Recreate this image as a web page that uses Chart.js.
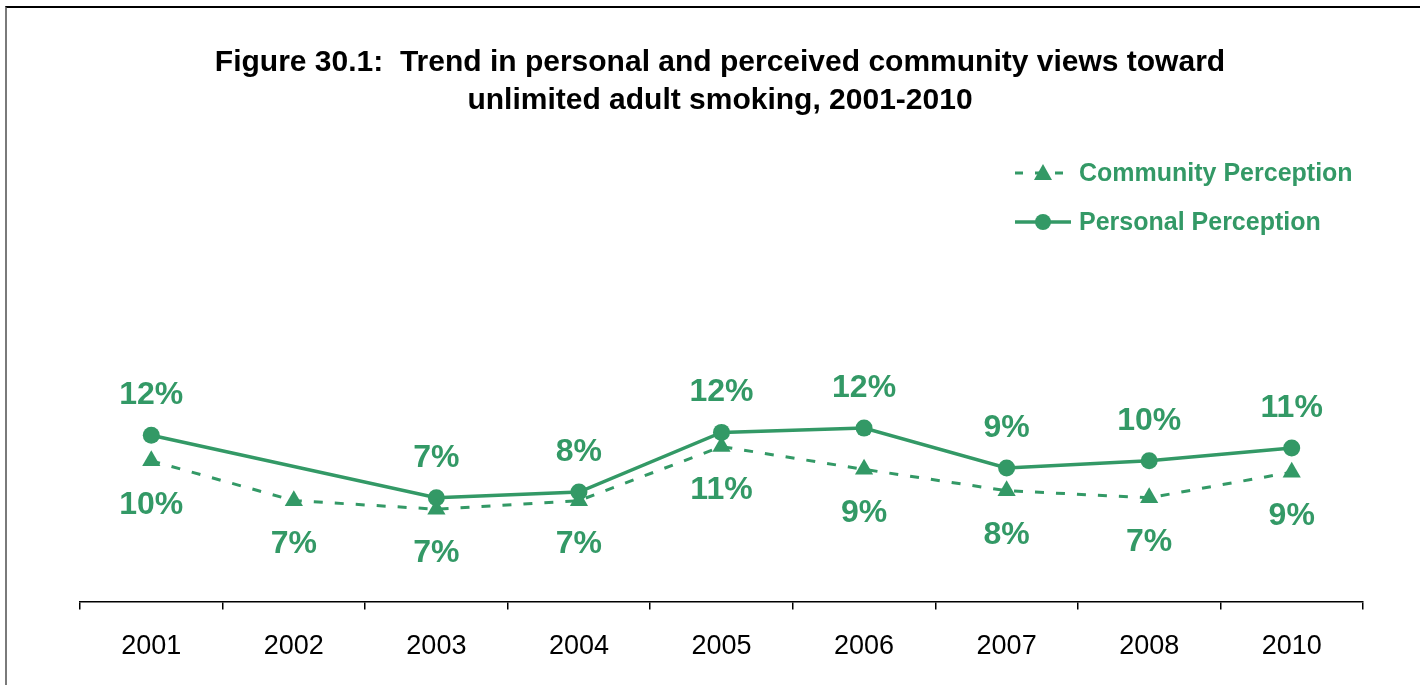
<!DOCTYPE html>
<html>
<head>
<meta charset="utf-8">
<script src="https://cdn.jsdelivr.net/npm/chart.js@4"></script>
<style>
  html, body { margin: 0; padding: 0; background: #fff; }
  #wrap { position: relative; width: 1420px; height: 685px; overflow: hidden; }
  #frame { position: absolute; left: 5px; top: 6px; width: 1500px; height: 800px;
           border-top: 2px solid #000; border-left: 2px solid #7a7a7a; box-sizing: border-box; }
  canvas { position: absolute; left: 0; top: 0; }
</style>
</head>
<body>
<div id="wrap">
  <div id="frame"></div>
  <canvas id="c" width="1420" height="685"></canvas>
</div>
<script>
const titleLines = ["Figure 30.1:  Trend in personal and perceived community views toward", "unlimited adult smoking, 2001-2010"];
const years = ["2001", "2002", "2003", "2004", "2005", "2006", "2007", "2008", "2010"];
const communityPerception = [9.9, 7.1, 6.5, 7.1, 10.9, 9.3, 7.8, 7.3, 9.1];
const personalPerception = [11.7, null, 7.3, 7.7, 11.9, 12.2, 9.4, 9.9, 10.8];
const seriesNames = ["Community Perception", "Personal Perception"];

const GREEN = "#339966";
const FONT = "'Liberation Sans', Arial, sans-serif";

const decorPlugin = {
  id: "decor",
  afterDatasetsDraw(chart) {
    const ctx = chart.ctx;
    ctx.save();
    // data labels
    ctx.fillStyle = GREEN;
    ctx.font = "bold 32px " + FONT;
    ctx.textAlign = "center";
    ctx.textBaseline = "middle";
    chart.data.datasets.forEach((ds, di) => {
      const meta = chart.getDatasetMeta(di);
      meta.data.forEach((pt, i) => {
        const v = ds.data[i];
        if (v === null || v === undefined) return;
        const off = ds.labelPos === "above" ? -40 : 44;
        ctx.fillText(Math.round(v) + "%", pt.x, pt.y + off);
      });
    });
    // title
    ctx.fillStyle = "#000";
    ctx.font = "bold 30px " + FONT;
    ctx.fillText(titleLines[0], 720, 63);
    ctx.fillText(titleLines[1], 720, 101);
    // legend
    const lx0 = 1015, lx1 = 1071, mx = 1043;
    ctx.strokeStyle = GREEN;
    ctx.fillStyle = GREEN;
    ctx.lineWidth = 3;
    // community
    let y = 173;
    ctx.setLineDash([8, 12]);
    ctx.beginPath(); ctx.moveTo(lx0, y); ctx.lineTo(lx1, y); ctx.stroke();
    ctx.setLineDash([]);
    ctx.beginPath();
    ctx.moveTo(mx, y - 9); ctx.lineTo(mx + 9, y + 7); ctx.lineTo(mx - 9, y + 7); ctx.closePath(); ctx.fill();
    // personal
    y = 222;
    ctx.lineWidth = 3.5;
    ctx.beginPath(); ctx.moveTo(lx0, y); ctx.lineTo(lx1, y); ctx.stroke();
    ctx.beginPath(); ctx.arc(mx, y, 8, 0, Math.PI * 2); ctx.fill();
    ctx.font = "bold 25px " + FONT;
    ctx.textAlign = "left";
    ctx.fillText(seriesNames[0], 1079, 174);
    ctx.fillText(seriesNames[1], 1079, 223);
    ctx.restore();
  }
};

new Chart(document.getElementById("c"), {
  type: "line",
  data: {
    labels: years,
    datasets: [
      {
        label: seriesNames[0],
        data: communityPerception,
        borderColor: GREEN, backgroundColor: GREEN,
        borderWidth: 3, borderDash: [9, 12],
        pointStyle: "triangle", pointRadius: 10.5, pointHoverRadius: 10.5,
        pointBorderWidth: 0,
        tension: 0, labelPos: "below"
      },
      {
        label: seriesNames[1],
        data: personalPerception,
        borderColor: GREEN, backgroundColor: GREEN,
        borderWidth: 3.5,
        pointStyle: "circle", pointRadius: 8.5, pointHoverRadius: 8.5,
        pointBorderWidth: 0,
        spanGaps: true,
        tension: 0, labelPos: "above"
      }
    ]
  },
  options: {
    responsive: false,
    animation: false,
    events: [],
    layout: { padding: { left: 80, right: 57, top: 175, bottom: 1 } },
    plugins: { legend: { display: false }, title: { display: false }, tooltip: { enabled: false } },
    scales: {
      y: { display: false, min: 0, max: 30 },
      x: {
        offset: true,
        grid: { offset: true, drawOnChartArea: false, drawTicks: true, tickLength: 8, color: "#000", lineWidth: 1.5 },
        border: { display: true, color: "#000", width: 1.5 },
        ticks: { color: "#000", font: { family: FONT, size: 27 }, padding: 21, maxRotation: 0 }
      }
    }
  },
  plugins: [decorPlugin]
});
</script>
</body>
</html>
